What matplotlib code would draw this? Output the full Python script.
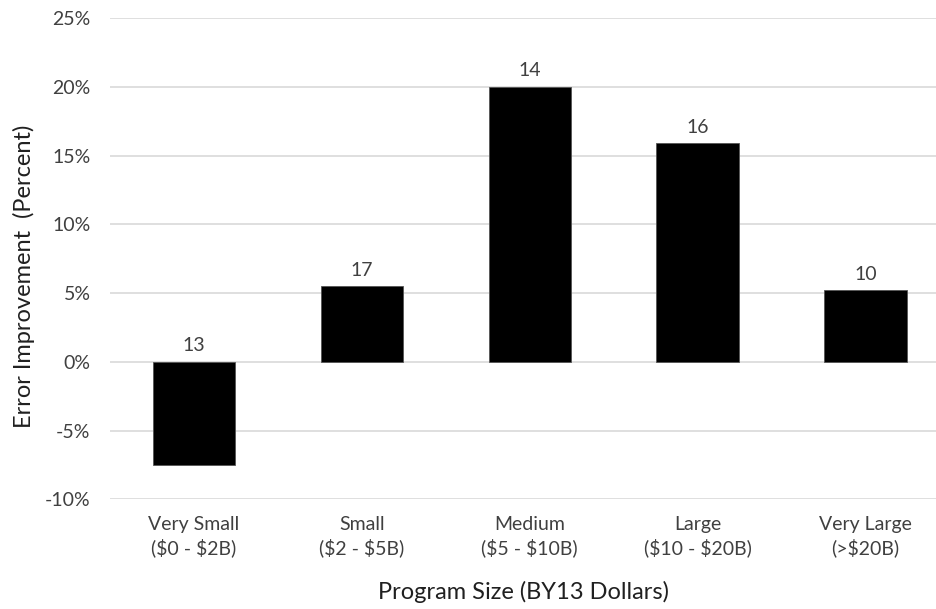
import numpy as np
import matplotlib.pyplot as plt
from matplotlib.ticker import PercentFormatter

plt.rcParams['font.family'] = ['Lato', 'DejaVu Sans']
plt.rcParams['axes.unicode_minus'] = False
plt.rcParams['text.parse_math'] = False

# program size categories and average error improvement
categories = ['Very Small\n($0 - $2B)', 'Small\n($2 - $5B)', 'Medium\n($5 - $10B)',
              'Large\n($10 - $20B)', 'Very Large\n(>$20B)']
improvement = [-7.5, 5.5, 20.0, 15.9, 5.2]
counts = [13, 17, 14, 16, 10]
yticks = [-10, -5, 0, 5, 10, 15, 20, 25]

fig = plt.figure(figsize=(9.36, 6.09), dpi=100)
ax = fig.add_axes([110 / 936, 1 - 499.3 / 609, 1 - 110 / 936, (499.3 - 18) / 609])

x = np.arange(len(categories))
ax.bar(x, improvement, width=0.49, color='black', edgecolor='#555555',
       linewidth=0.6, zorder=3)

# sample counts above each bar (above zero for the negative bar)
for xi, v, n in zip(x, improvement, counts):
    ax.text(xi, max(v, 0) + 0.55, str(n), ha='center', va='bottom',
            fontsize=14, color='#404040')

ax.set_xlim(-0.5, 4.42)
ax.set_ylim(-10, 25)
ax.set_yticks(yticks)
ax.yaxis.set_major_formatter(PercentFormatter(decimals=0))
ax.set_xticks(x)
ax.set_xticklabels(categories, linespacing=1.35)
ax.tick_params(axis='both', length=0, labelsize=14, labelcolor='#404040')
ax.tick_params(axis='x', pad=12)
ax.tick_params(axis='y', pad=14)

ax.grid(axis='y', color='#d9d9d9', linewidth=1.2, zorder=0)
for s in ax.spines.values():
    s.set_visible(False)

ax.set_xlabel('Program Size (BY13 Dollars)', fontsize=17, color='#202020', labelpad=17)
ax.set_ylabel('Error Improvement  (Percent)', fontsize=17, color='#202020', labelpad=7)
ax.yaxis.label.set_y(0.464)

fig.savefig('out.png', dpi=100)
